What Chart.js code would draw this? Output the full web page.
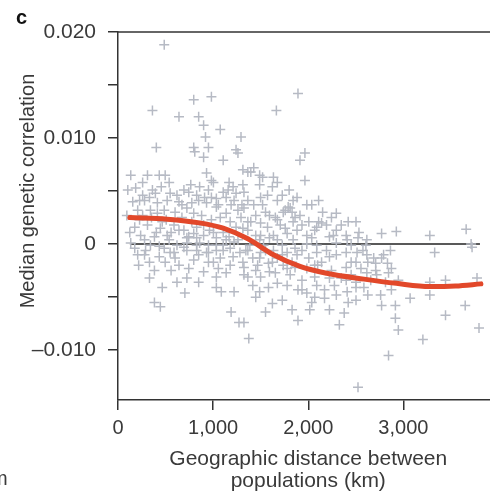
<!DOCTYPE html>
<html>
<head>
<meta charset="utf-8">
<script src="https://cdn.jsdelivr.net/npm/chart.js@4/dist/chart.umd.min.js"></script>
<style>
  html, body { margin: 0; padding: 0; background: #fff; overflow: hidden; width: 490px; height: 492px; }
  canvas { display: block; }
</style>
</head>
<body>
<canvas id="chart" width="505" height="492"></canvas>
<script>
// distance between populations (km) and median genetic correlation (x 1e-4)
const distanceKm = [
  486, 362, 403, 641, 796, 982, 848, 900, 920, 951, 796, 900, 1075, 1106, 1293, 1241, 931, 982, 1665, 1892, 1965, 1913, 1965, 1261, 807,
  134, 310, 434, 496, 259, 1003, 1168, 1210, 858, 362, 393, 548, 744, 827, 910, 1034, 1137, 1241, 155, 279, 414, 641, 776, 931, 1034, 1189,
  207, 341, 486, 600, 724, 796, 1137, 1261, 176, 310, 445, 589, 693, 827, 962, 1106, 1241, 238, 383, 517, 744, 900, 1034, 1168, 134, 341, 620, 827, 1106,
  176, 290, 434, 496, 641, 548, 693, 796, 900, 1034, 1137, 331, 465, 383, 445, 703, 1034, 1086, 1220, 1189, 1272, 931, 1003, 827, 1106, 1210, 724, 858, 1034,
  1427, 1365, 1313, 1520, 1634, 1675, 1623, 1324, 1572, 1499, 1365, 1427, 1324, 1789, 1737, 1830, 1913, 2151, 2140, 2068, 1654, 1499, 1396, 1572, 1706,
  1841, 1882, 1778, 1634, 1499, 1365, 1985, 2223, 2399, 2533, 1675, 1841, 2037, 2295, 2409,
  1365, 1499, 1634, 1778, 1934, 2089, 2223, 2399, 2513, 1324, 1468, 1582, 1737, 1861, 1985, 2099, 2399, 2502, 1365, 1499, 1654, 1810, 2068, 2223, 2399,
  1675, 1582, 1892, 1985, 2171, 2409, 2502, 1448, 2037, 2171, 1623, 1551, 1830, 1892, 2016, 2223, 2378, 2327, 1324, 1375,
  2616, 2792, 2709, 2771, 3329, 3722, 2616, 2719, 2844, 2874, 2947, 2585, 2761, 2874, 3071, 3278, 3443, 3278, 3774, 2771, 2916, 3650, 3443, 2916, 2947,
  3205, 3795, 2523, 2844, 2771, 2926, 3278, 3660, 2616, 3712, 2109, 2264,
  227, 352, 465, 558, 672, 776, 879, 982, 1075, 1179, 1293, 1365, 1448, 1551, 1758, 1934, 2006, 2192, 2295, 2451, 279, 434, 538, 724, 848, 951, 1075,
  1179, 1282, 1417, 1530, 1727, 1830, 2006, 2140, 2295, 2451, 2575, 1313, 1448, 1592, 1778, 1934, 2089, 2275, 2451, 2554, 1261, 1386, 1489, 1592, 1727,
  1861, 1985, 2089, 2192, 1179, 1055, 951, 600, 744, 331, 207, 259, 517, 693, 951, 1106, 1313, 1489, 1727, 1841, 2037, 2244, 2347, 2502, 1448, 1551,
  1675, 1882, 2068, 2244, 2347, 2502, 2626, 2688, 2833, 2657, 2812, 2502, 2626,
  1396, 1489, 1758, 1810, 1861, 1675, 2089,
  103, 186, 227, 331, 455, 538, 620, 672, 765, 848, 982, 1055, 1158, 1220, 1303, 93, 259, 414, 507, 641, 796, 900, 1003, 1137, 1313,
  124, 279, 403, 486, 589, 724, 827, 951, 1034, 1220, 1344, 217, 383, 724, 558, 848, 620, 1324, 1417, 1489,
  1520, 1592, 1675, 1799, 1882, 1985, 2109, 2295, 2420, 1489, 1623, 1778, 1934, 2068, 1727, 2295, 2420, 2523, 2606, 2709, 2864
];
const correlationE4 = [
  188, 126, 91, 120, 136, 139, 120, 112, 101, 91, 91, 82, 108, 79, 101, 89, 67, 60, 126, 142, 86, 79, 60, 86, 87,
  65, 65, 65, 65, 58, 58, 58, 54, 54, 51, 48, 48, 49, 46, 44, 43, 44, 48, 40, 41, 39, 40, 39, 39, 35, 37,
  32, 32, 32, 30, 34, 29, 29, 32, 16, 18, 15, 18, 13, 16, 13, 11, 16, 8, 7, 8, 7, 8, 6, 7, 1, -1, -1, -1, -1,
  -4, -6, -12, -17, -20, -8, -3, -15, -26, -31, -27, -32, -41, -55, -59, -46, -41, -45, -45, -64, -74, -8, -17, -6, -6, -12, 1, 1, -1,
  72, 68, 70, 63, 63, 58, 54, 49, 46, 44, 41, 37, 34, 35, 30, 30, 27, 30, 20, 13, 25, 20, 21, 16, 18,
  21, 13, 10, 8, 8, 13, 8, 7, 8, 11, 4, 4, 6, 1, 4,
  -6, -8, -6, -8, -6, -8, -12, -8, -8, -22, -20, -18, -20, -22, -23, -20, -22, -17, -31, -31, -27, -29, -31, -32, -34,
  -37, -41, -43, -46, -43, -45, -41, -50, -55, -51, -56, -64, -62, -72, -62, -62, -65, -76, -74, -89,
  -10, -10, -18, -13, -8, -3, -27, -29, -27, -23, -34, -41, -48, -43, -51, -36, -34, -48, -32, -58, -58, -58, -67, -70, -81,
  -90, -79, -135, -105, 10, 12, 8, 14, 4, 0, 21, 8,
  23, 25, 21, 11, 25, 21, 27, 23, 25, 21, 25, 21, 27, 30, 15, 18, 21, 18, 13, -1, 4, -2, 4, -6, -10, -1, -13,
  -4, -8, -13, -1, -10, -17, -13, -17, -10, -17, -6, -17, -25, -26, -23, -34, -39, -39, -29, -23, 4, -1, 4, 6, -1,
  -4, 0, -1, -6, -20, -23, -17, -13, -23, -17, -10, 46, 41, 51, 51, 49, 56, 56, 46, 41, 37, 25, 18, 21, 8, -6,
  -13, -10, -20, -25, -32, -36, -17, -13, -18, -34, -36, -53, -48,
  68, 65, 32, 34, 25, 23, 16,
  51, 53, 41, 44, 54, 58, 46, 37, 56, 41, 44, 37, 51, 41, 37, 27, 27, 29, 23, 13, 10, 18, 11, 4, 15,
  11, -10, 11, -4, -8, 6, 6, -8, -6, 2, -6, -20, -25, -32, -25, -36, -36, -29, -39, -45,
  37, 27, 41, 51, 44, 37, 41, 29, 21, -13, -17, -39, -43, -50, -53, -48, -55, 6, -1, -25, -6
];

// smoothed trend (red curve)
const trendKm = [124, 517, 858, 1106, 1365, 1634, 1913, 2192, 2585, 2926, 3278, 3547, 3815];
const trendE4 = [25, 23.5, 20, 15, 5, -10, -21, -27.5, -33, -37, -40, -39.5, -37.5];

// zero reference line
const zeroLineKm = [125, 3805];

const xTickValues = [0, 1000, 2000, 3000];
const xTickLabels = ['0', '1,000', '2,000', '3,000'];
const yTickValues = [-0.01, -0.005, 0, 0.005, 0.01, 0.015, 0.02];
const yTickLabels = ['\u20130.010', '', '0', '', '0.010', '', '0.020'];

const FONT = "'Liberation Sans', Arial, Helvetica, sans-serif";
const TEXT = '#3a3a3a';
const AXIS = '#333';

const points = distanceKm.map((d, i) => ({ x: d, y: correlationE4[i] / 10000 }));
const trend = trendKm.map((d, i) => ({ x: d, y: trendE4[i] / 10000 }));
const zeroLine = zeroLineKm.map(d => ({ x: d, y: 0 }));

// labels that sit outside the axes: y title, panel letter, cut-off neighbour text, top frame line
const extras = {
  id: 'extras',
  afterDraw(chart) {
    const { ctx, chartArea } = chart;
    ctx.save();
    ctx.strokeStyle = AXIS;
    ctx.lineWidth = 1.5;
    ctx.beginPath();
    ctx.moveTo(chartArea.left, chartArea.top);
    ctx.lineTo(chartArea.right, chartArea.top);
    ctx.stroke();

    ctx.fillStyle = TEXT;
    ctx.font = '20px ' + FONT;
    ctx.textAlign = 'center';
    ctx.textBaseline = 'middle';
    ctx.translate(28, 191);
    ctx.rotate(-Math.PI / 2);
    ctx.fillText('Median genetic correlation', 0, 0);
    ctx.restore();

    ctx.save();
    ctx.fillStyle = '#111';
    ctx.font = 'bold 20px ' + FONT;
    ctx.textBaseline = 'alphabetic';
    ctx.fillText('c', 16, 24);
    ctx.fillStyle = TEXT;
    ctx.font = '20px ' + FONT;
    ctx.fillText('m', -9, 485);
    ctx.restore();
  }
};

new Chart(document.getElementById('chart'), {
  data: {
    datasets: [
      {
        type: 'line',
        data: trend,
        borderColor: '#e2482a',
        borderWidth: 5,
        pointRadius: 0,
        cubicInterpolationMode: 'monotone',
        borderCapStyle: 'round',
        order: 0
      },
      {
        type: 'scatter',
        data: points,
        pointStyle: 'cross',
        pointRadius: 5,
        borderWidth: 1.5,
        borderColor: '#b6bac4',
        order: 1
      },
      {
        type: 'line',
        data: zeroLine,
        borderColor: '#222',
        borderWidth: 1.5,
        pointRadius: 0,
        order: 2
      }
    ]
  },
  options: {
    responsive: false,
    animation: false,
    devicePixelRatio: 1,
    layout: { padding: { left: 0, top: 32, right: 0, bottom: 0 } },
    plugins: { legend: { display: false }, tooltip: { enabled: false } },
    scales: {
      x: {
        type: 'linear',
        min: 0,
        max: 4000,
        afterBuildTicks: s => { s.ticks = xTickValues.map(v => ({ value: v })); },
        afterFit: s => { s.height = 92; },
        ticks: {
          autoSkip: false,
          maxRotation: 0,
          padding: 6,
          color: TEXT,
          font: { family: FONT, size: 20 },
          callback: (v, i) => xTickLabels[i]
        },
        grid: { drawOnChartArea: false, drawTicks: true, tickLength: 10, color: AXIS, lineWidth: 1.5 },
        border: { color: AXIS, width: 1.5 },
        title: {
          display: true,
          text: ['Geographic distance between', 'populations (km)'],
          color: TEXT,
          font: { family: FONT, size: 21, lineHeight: 1.05 },
          padding: { top: 0, bottom: 0 }
        }
      },
      y: {
        type: 'linear',
        min: -0.0147,
        max: 0.02,
        afterBuildTicks: s => { s.ticks = yTickValues.map(v => ({ value: v })); },
        afterFit: s => { s.width = 118; },
        ticks: {
          autoSkip: false,
          padding: 12,
          color: TEXT,
          font: { family: FONT, size: 21 },
          callback: (v, i) => yTickLabels[i]
        },
        grid: { drawOnChartArea: false, drawTicks: true, tickLength: 10, color: AXIS, lineWidth: 1.5 },
        border: { color: AXIS, width: 1.5 }
      }
    }
  },
  plugins: [extras]
});
</script>
</body>
</html>
